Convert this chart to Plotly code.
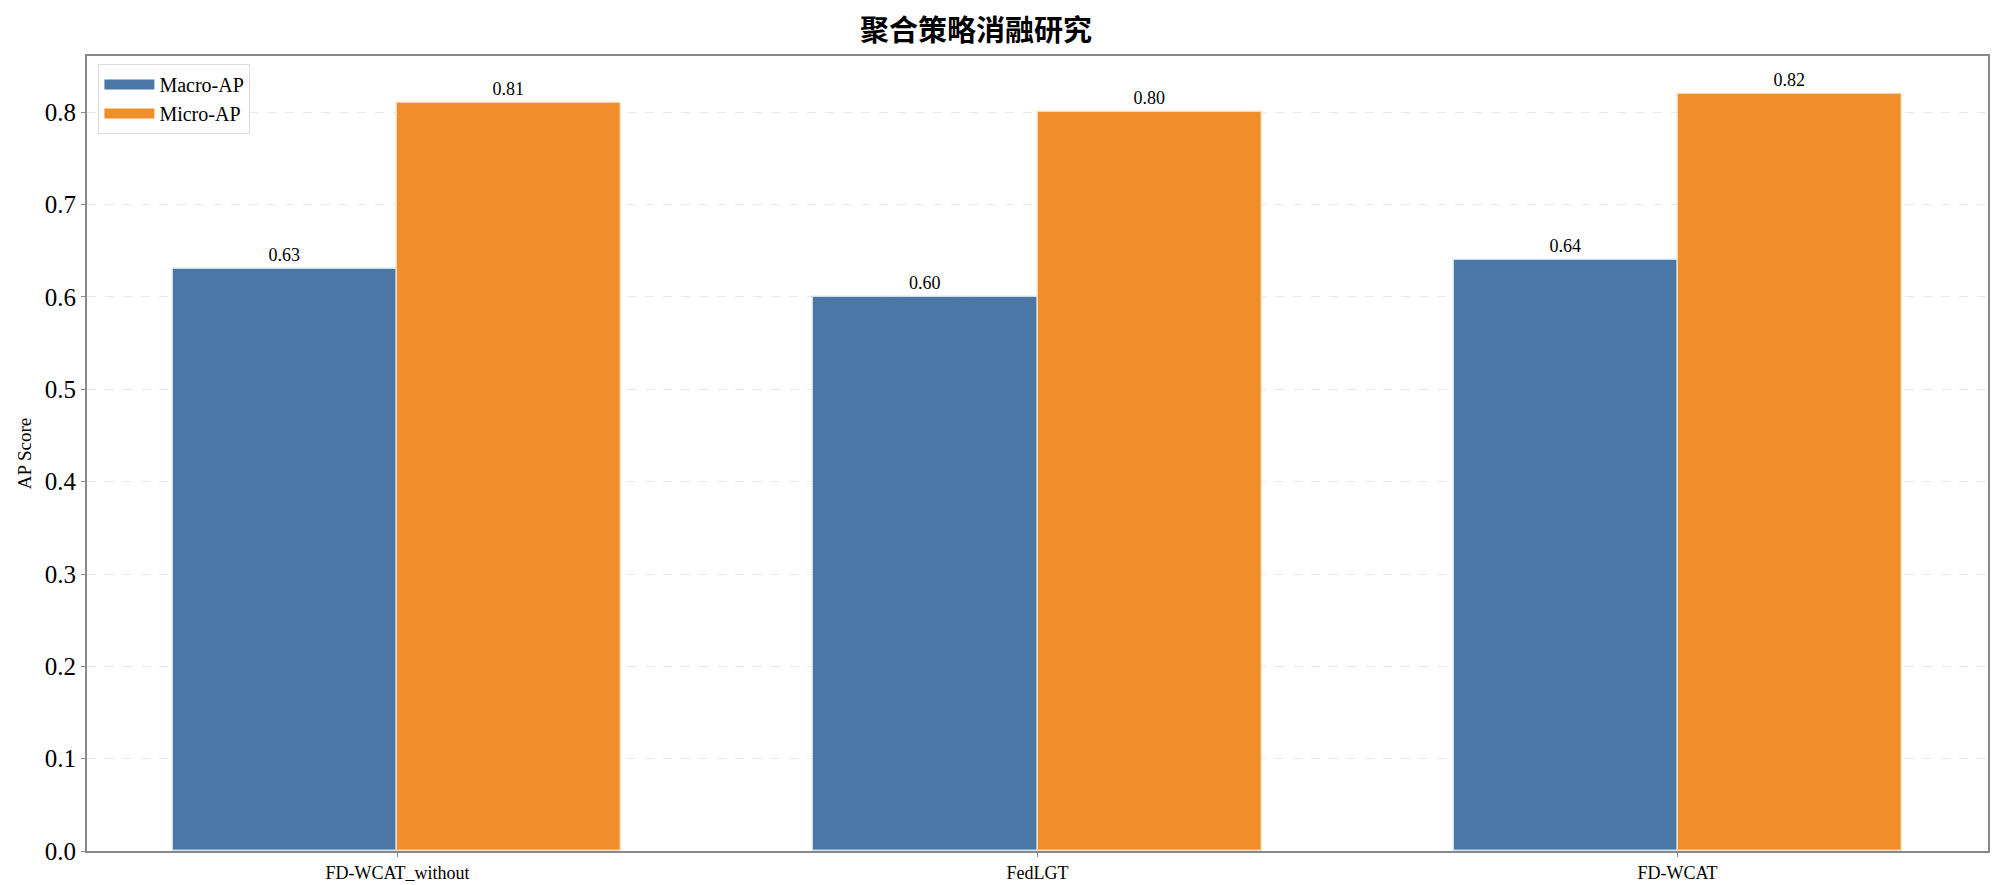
import plotly.graph_objects as go

methods = ["FD-WCAT_without", "FedLGT", "FD-WCAT"]
macro_ap = [0.63, 0.60, 0.64]
micro_ap = [0.81, 0.80, 0.82]
y_ticks = [0.0, 0.1, 0.2, 0.3, 0.4, 0.5, 0.6, 0.7, 0.8]

pos = list(range(len(methods)))
bar_w = 0.35
serif = "Liberation Serif, Times New Roman, serif"
blue = "#4a77a5"
orange = "#f08e2c"

fig = go.Figure()
fig.add_trace(go.Bar(
    x=pos, y=macro_ap, name="Macro-AP", showlegend=False,
    width=bar_w, offset=-bar_w,
    marker={"color": blue, "line": {"color": "rgba(215,228,240,0.9)", "width": 1.5}},
    text=[f"{v:.2f}" for v in macro_ap], textposition="outside",
    textfont={"family": serif, "size": 18, "color": "black"},
    cliponaxis=False,
))
fig.add_trace(go.Bar(
    x=pos, y=micro_ap, name="Micro-AP", showlegend=False,
    width=bar_w, offset=0,
    marker={"color": orange, "line": {"color": "rgba(250,222,195,0.9)", "width": 1.5}},
    text=[f"{v:.2f}" for v in micro_ap], textposition="outside",
    textfont={"family": serif, "size": 18, "color": "black"},
    cliponaxis=False,
))
# legend entries drawn as thick line swatches (wide rectangles like the reference)
for name, col in [("Macro-AP", blue), ("Micro-AP", orange)]:
    fig.add_trace(go.Scatter(
        x=[None], y=[None], mode="lines", name=name,
        line={"color": col, "width": 14},
    ))

# page body has an 8px margin, so the figure is sized to fit the window
fig.update_layout(
    width=1992, height=877,
    paper_bgcolor="white", plot_bgcolor="white",
    margin={"l": 79, "r": 12, "t": 48, "b": 34},
    title={
        "text": "<b>聚合策略消融研究</b>",
        "xref": "container", "x": 0.486, "xanchor": "center",
        "yref": "container", "y": 0.974, "yanchor": "middle",
        "font": {"family": "Noto Sans CJK SC", "size": 29, "color": "black"},
    },
    bargap=0, barmode="overlay",
    showlegend=True,
    legend={
        "x": 0.006, "y": 0.99, "xanchor": "left", "yanchor": "top",
        "bgcolor": "rgba(255,255,255,0.9)", "bordercolor": "#dddddd", "borderwidth": 1,
        "font": {"family": serif, "size": 20, "color": "black"},
        "itemwidth": 50, "tracegroupgap": 2,
    },
)

fig.update_xaxes(
    range=[-0.485, 2.485], automargin=False,
    tickmode="array", tickvals=pos, ticktext=methods,
    tickfont={"family": serif, "size": 18, "color": "black"},
    showline=True, mirror=True, linecolor="#888888", linewidth=2,
    ticks="outside", ticklen=4, tickcolor="#888888",
    showgrid=False, zeroline=False,
)
fig.update_yaxes(
    range=[0, 0.861], automargin=False,
    tickmode="array", tickvals=y_ticks, ticktext=[f"{v:.1f}" for v in y_ticks],
    tickfont={"family": serif, "size": 25, "color": "black"},
    title={"text": "AP Score", "font": {"family": serif, "size": 19, "color": "black"}, "standoff": 8},
    showline=True, mirror=True, linecolor="#888888", linewidth=2,
    ticks="outside", ticklen=4, tickcolor="#888888",
    showgrid=True, gridcolor="#e8e8e8", griddash="dash", gridwidth=1,
    zeroline=False,
)

fig.write_html("out.html")
